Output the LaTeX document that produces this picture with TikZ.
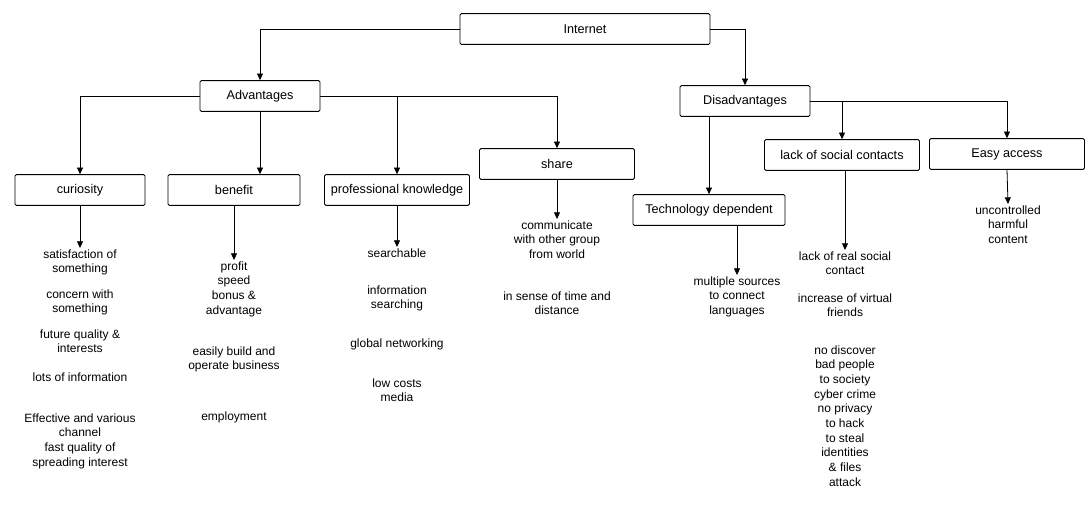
\documentclass[tikz,border=0pt]{standalone}
\usepackage{fontspec}
\setmainfont{Liberation Sans}
\usetikzlibrary{arrows.meta}
\begin{document}
\begin{tikzpicture}[x=0.75pt,y=-0.75pt,
  box/.style={draw, line width=0.7pt, rounded corners=1pt, inner sep=2pt,
    minimum height=23pt, font=\fontsize{9.5}{11}\selectfont},
  txt/.style={align=center, anchor=north, inner sep=1pt,
    font=\fontsize{9}{11}\selectfont},
  arr/.style={-{Triangle[length=5pt,width=4.5pt]}, line width=0.6pt}]
\useasboundingbox (0,0) rectangle (1088,519);
% boxes
\node[box, minimum width=187.5pt] (root) at (585,29) {Internet};
\node[box, minimum width=90pt] (adv) at (260,96) {Advantages};
\node[box, minimum width=97.5pt] (dis) at (745,101) {Disadvantages};
\node[box, minimum width=97.5pt] (cur) at (80,190) {curiosity};
\node[box, minimum width=99pt] (ben) at (234,190) {benefit};
\node[box, minimum width=108.75pt] (pro) at (397,190) {professional knowledge};
\node[box, minimum width=116.25pt] (share) at (557,164) {share};
\node[box, minimum width=114pt] (tech) at (709,210) {Technology dependent};
\node[box, minimum width=116.25pt] (cont) at (842,155) {lack of social contacts};
\node[box, minimum width=116.25pt] (easy) at (1007,154) {Easy access};
% text groups
\node[txt] (cur1) at (80,248) {satisfaction of\\something};
\node[txt] (cur2) at (80,288) {concern with\\something};
\node[txt] (cur3) at (80,328) {future quality \&\\interests};
\node[txt] (cur4) at (80,371) {lots of information};
\node[txt] (cur5) at (80,412) {Effective and various\\channel\\fast quality of\\spreading interest};
\node[txt] (ben1) at (234,260) {profit\\speed\\bonus \&\\advantage};
\node[txt] (ben2) at (234,345) {easily build and\\operate business};
\node[txt] (ben3) at (234,410) {employment};
\node[txt] (pro1) at (397,247) {searchable};
\node[txt] (pro2) at (397,284) {information\\searching};
\node[txt] (pro3) at (397,337) {global networking};
\node[txt] (pro4) at (397,377) {low costs\\media};
\node[txt] (share1) at (557,219) {communicate\\with other group\\from world};
\node[txt] (share2) at (557,290) {in sense of time and\\distance};
\node[txt] (tech1) at (737,275) {multiple sources\\to connect\\languages};
\node[txt] (cont1) at (845,250) {lack of real social\\contact};
\node[txt] (cont2) at (845,292) {increase of virtual\\friends};
\node[txt] (cont3) at (845,344) {no discover\\bad people\\to society\\cyber crime\\no privacy\\to hack\\to steal\\identities\\\& files\\attack};
\node[txt] (easy1) at (1008,204) {uncontrolled\\harmful\\content};
% connectors
\draw[arr] (root.west) -| (adv.north);
\draw[arr] (root.east) -| (dis.north);
\draw[arr] (adv.west) -| (cur.north);
\draw[arr] (adv.south) -- (adv.south |- ben.north);
\draw[arr] (adv.east) -| (pro.north);
\draw[arr] (adv.east) -| (share.north);
\draw[arr] (dis.south -| tech.north) -- (tech.north);
\draw[arr] (dis.east) -| (cont.north);
\draw[arr] (dis.east) -| (easy.north);
\draw[arr] (cur.south) -- (cur1.north);
\draw[arr] (ben.south) -- (ben1.north);
\draw[arr] (pro.south) -- (pro1.north);
\draw[arr] (share.south) -- (share1.north);
\draw[arr] (tech.south -| tech1.north) -- (tech1.north);
\draw[arr] (cont.south -| cont1.north) -- (cont1.north);
\draw[arr] (easy.south) -- (easy1.north);
\end{tikzpicture}
\end{document}
